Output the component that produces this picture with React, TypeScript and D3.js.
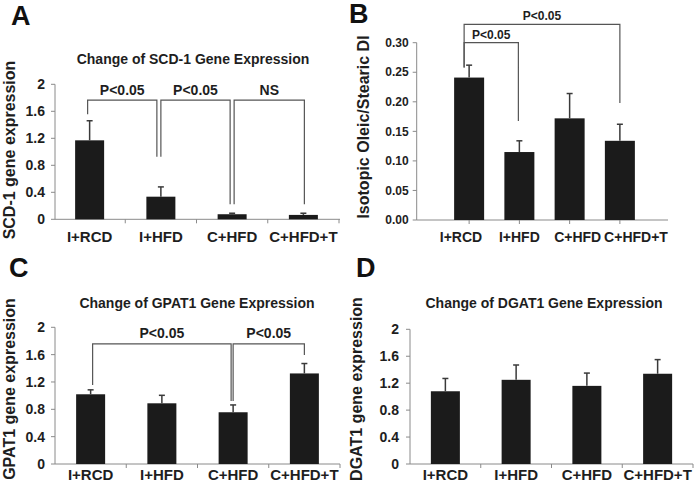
import React from "react";
import * as d3 from "d3";

// ---------- data ----------
const categories = ["I+RCD", "I+HFD", "C+HFD", "C+HFD+T"];

const scdMeans = [1.17, 0.335, 0.075, 0.065];
const scdErrors = [0.29, 0.145, 0.015, 0.025];

const diMeans = [0.241, 0.115, 0.172, 0.134];
const diErrors = [0.021, 0.019, 0.042, 0.028];

const gpatMeans = [1.02, 0.888, 0.757, 1.325];
const gpatErrors = [0.065, 0.117, 0.107, 0.145];

const dgatMeans = [1.08, 1.25, 1.16, 1.34];
const dgatErrors = [0.19, 0.22, 0.19, 0.21];

const expressionTicks = [0, 0.4, 0.8, 1.2, 1.6, 2];
const diTicks = [0, 0.05, 0.1, 0.15, 0.2, 0.25, 0.3];

const scdBrackets = [
  { from: 0, to: 1, label: "P<0.05", level: 1.767, leftEnd: 1.555, rightEnd: 0.927 },
  { from: 1, to: 2, label: "P<0.05", level: 1.767, leftEnd: 0.927, rightEnd: 0.222 },
  { from: 2, to: 3, label: "NS", level: 1.767, leftEnd: 0.222, rightEnd: 0.222 },
];
const diBrackets = [
  { from: 0, to: 3, label: "P<0.05", level: 0.331, leftEnd: 0.258, rightEnd: 0.198 },
  { from: 0, to: 1, label: "P<0.05", level: 0.3, leftEnd: 0.258, rightEnd: 0.1675 },
];
const gpatBrackets = [
  { from: 0, to: 2, label: "P<0.05", level: 1.757, leftEnd: 1.157, rightEnd: 0.922 },
  { from: 2, to: 3, label: "P<0.05", level: 1.757, leftEnd: 0.922, rightEnd: 1.596 },
];

// ---------- styles ----------
const FONT = "Arial, 'Liberation Sans', Helvetica, sans-serif";
const TEXT = "#1e1e1e";
const BAR = "#1b1b1b";
const AXIS = "#8a8a8a";
const BRACKET = "#555555";
const ERR = "#3a3a3a";

type Bracket = { from: number; to: number; label: string; level: number; leftEnd: number; rightEnd: number };

type PanelCfg = {
  letter: string;
  letterX: number;
  letterY: number;
  title?: string;
  titleX?: number;
  titleY?: number;
  ylabel: string;
  ylabelX: number;
  ylabelY: number;
  ylabelSize: number;
  means: number[];
  errors: number[];
  ticks: number[];
  tickFmt: (v: number) => string;
  tickSize: number;
  tickGap: number;
  yMax: number;
  yBase: number;
  yTop: number;
  axisX0: number;
  axisX1: number;
  bandRange: [number, number];
  pInner: number;
  pOuter: number;
  xTicksAtCenters: boolean;
  labelRange?: [number, number];
  xLabelY: number;
  xLabelSize: number;
  brackets: Bracket[];
  nudges: [number, number][];
  bracketFont: number;
  bracketLabelGap: number;
};

function Panel({ c }: { c: PanelCfg }) {
  const x = d3
    .scaleBand<string>()
    .domain(categories)
    .range(c.bandRange)
    .paddingInner(c.pInner)
    .paddingOuter(c.pOuter);
  const y = d3.scaleLinear().domain([0, c.yMax]).range([c.yBase, c.yTop]);
  const cx = (i: number) => (x(categories[i]) as number) + x.bandwidth() / 2;
  const labelScale = c.labelRange
    ? d3.scalePoint<string>().domain(categories).range(c.labelRange)
    : null;
  const xTickPositions = c.xTicksAtCenters
    ? categories.map((_, i) => cx(i))
    : categories.map((cat) => (x(cat) as number) + x.bandwidth() / 2 + x.step() / 2);

  return (
    <g>
      <text x={c.letterX} y={c.letterY} fontSize={27} fontWeight="bold" fill="#111">
        {c.letter}
      </text>
      {c.title && (
        <text x={c.titleX} y={c.titleY} fontSize={14} fontWeight="bold" textAnchor="middle" fill={TEXT}>
          {c.title}
        </text>
      )}
      <text
        transform={`translate(${c.ylabelX},${c.ylabelY}) rotate(-90)`}
        fontSize={c.ylabelSize}
        fontWeight="bold"
        textAnchor="middle"
        fill={TEXT}
      >
        {c.ylabel}
      </text>

      {/* y axis */}
      <line x1={c.axisX0} x2={c.axisX0} y1={y(0)} y2={y(c.yMax)} stroke={AXIS} strokeWidth={1} />
      {c.ticks.map((t) => (
        <g key={t}>
          <line x1={c.axisX0 - 4} x2={c.axisX0} y1={y(t)} y2={y(t)} stroke={AXIS} strokeWidth={1} />
          <text
            x={c.axisX0 - c.tickGap}
            y={y(t)}
            dy="0.35em"
            textAnchor="end"
            fontSize={c.tickSize}
            fontWeight="bold"
            fill={TEXT}
          >
            {c.tickFmt(t)}
          </text>
        </g>
      ))}

      {/* x axis */}
      <line x1={c.axisX0} x2={c.axisX1} y1={y(0)} y2={y(0)} stroke={AXIS} strokeWidth={1} />
      {xTickPositions.map((p, i) => (
        <line key={i} x1={p} x2={p} y1={y(0)} y2={y(0) + 4} stroke={AXIS} strokeWidth={1} />
      ))}

      {/* bars */}
      {c.means.map((m, i) => (
        <rect
          key={i}
          x={x(categories[i])}
          y={y(m)}
          width={x.bandwidth()}
          height={y(0) - y(m)}
          fill={BAR}
        />
      ))}
      {/* error bars */}
      {c.means.map((m, i) => (
        <g key={i} stroke={ERR} strokeWidth={1.5}>
          <line x1={cx(i)} x2={cx(i)} y1={y(m)} y2={y(m + c.errors[i])} />
          <line x1={cx(i) - 3} x2={cx(i) + 3} y1={y(m + c.errors[i])} y2={y(m + c.errors[i])} />
        </g>
      ))}

      {/* x labels */}
      {categories.map((cat, i) => (
        <text
          key={cat}
          x={labelScale ? (labelScale(cat) as number) : cx(i)}
          y={c.xLabelY}
          textAnchor="middle"
          fontSize={c.xLabelSize}
          fontWeight="bold"
          fill={TEXT}
        >
          {cat}
        </text>
      ))}

      {/* significance brackets */}
      {c.brackets.map((b, k) => {
        const xl = cx(b.from) + c.nudges[k][0];
        const xr = cx(b.to) + c.nudges[k][1];
        const yl = y(b.level);
        const path = `M${xl},${y(b.leftEnd)}V${yl}H${xr}V${y(b.rightEnd)}`;
        return (
          <g key={k}>
            <path d={path} fill="none" stroke={BRACKET} strokeWidth={1.2} />
            <text
              x={(xl + xr) / 2}
              y={yl - c.bracketLabelGap}
              textAnchor="middle"
              fontSize={c.bracketFont}
              fontWeight="bold"
              fill={TEXT}
            >
              {b.label}
            </text>
          </g>
        );
      })}
    </g>
  );
}

const fmtExpr = (v: number) => (v === 0 || v === 2 ? String(v) : d3.format(".1f")(v));
const fmtDI = d3.format(".2f");

const panels: PanelCfg[] = [
  {
    letter: "A", letterX: 11, letterY: 25,
    title: "Change of SCD-1 Gene Expression", titleX: 193, titleY: 64,
    ylabel: "SCD-1 gene expression", ylabelX: 15, ylabelY: 150, ylabelSize: 16,
    means: scdMeans, errors: scdErrors,
    ticks: expressionTicks, tickFmt: fmtExpr, tickSize: 14, tickGap: 10,
    yMax: 2, yBase: 219.3, yTop: 84.3,
    axisX0: 55, axisX1: 340, bandRange: [54, 339], pInner: 0.593, pOuter: 0.2965,
    xTicksAtCenters: false, xLabelY: 241.5, xLabelSize: 15,
    brackets: scdBrackets, nudges: [[-2, -4], [0, -2], [2, 1]], bracketFont: 14, bracketLabelGap: 5,
  },
  {
    letter: "B", letterX: 349, letterY: 23,
    ylabel: "Isotopic Oleic/Stearic DI", ylabelX: 369, ylabelY: 127, ylabelSize: 16,
    means: diMeans, errors: diErrors,
    ticks: diTicks, tickFmt: fmtDI, tickSize: 12, tickGap: 8,
    yMax: 0.3, yBase: 220, yTop: 42.7,
    axisX0: 416.7, axisX1: 668, bandRange: [444, 645], pInner: 0.403, pOuter: 0.2015,
    xTicksAtCenters: true, labelRange: [461, 636], xLabelY: 241.5, xLabelSize: 14,
    brackets: diBrackets, nudges: [[-5, 0], [-5, -1]], bracketFont: 12, bracketLabelGap: 4,
  },
  {
    letter: "C", letterX: 9, letterY: 277,
    title: "Change of GPAT1 Gene Expression", titleX: 197, titleY: 308,
    ylabel: "GPAT1 gene expression", ylabelX: 15, ylabelY: 389, ylabelSize: 16,
    means: gpatMeans, errors: gpatErrors,
    ticks: expressionTicks, tickFmt: fmtExpr, tickSize: 14, tickGap: 10,
    yMax: 2, yBase: 464, yTop: 327.3,
    axisX0: 55, axisX1: 340, bandRange: [55, 340], pInner: 0.593, pOuter: 0.2965,
    xTicksAtCenters: false, xLabelY: 480, xLabelSize: 15,
    brackets: gpatBrackets, nudges: [[2, -2], [0, 0]], bracketFont: 14, bracketLabelGap: 5.5,
  },
  {
    letter: "D", letterX: 356, letterY: 277,
    title: "Change of DGAT1 Gene Expression", titleX: 544, titleY: 308,
    ylabel: "DGAT1 gene expression", ylabelX: 362, ylabelY: 389, ylabelSize: 16,
    means: dgatMeans, errors: dgatErrors,
    ticks: expressionTicks, tickFmt: fmtExpr, tickSize: 14, tickGap: 11,
    yMax: 2, yBase: 464, yTop: 329.3,
    axisX0: 410, axisX1: 693, bandRange: [410, 693], pInner: 0.59, pOuter: 0.295,
    xTicksAtCenters: false, xLabelY: 480, xLabelSize: 15,
    brackets: [], nudges: [], bracketFont: 14, bracketLabelGap: 5,
  },
];

export default function App() {
  return (
    <svg
      width={694}
      height={490}
      viewBox="0 0 694 490"
      style={{ position: "absolute", left: 0, top: 0, background: "#fff", fontFamily: FONT }}
    >
      <rect width={694} height={490} fill="#fff" />
      {panels.map((p) => (
        <Panel key={p.letter} c={p} />
      ))}
    </svg>
  );
}
